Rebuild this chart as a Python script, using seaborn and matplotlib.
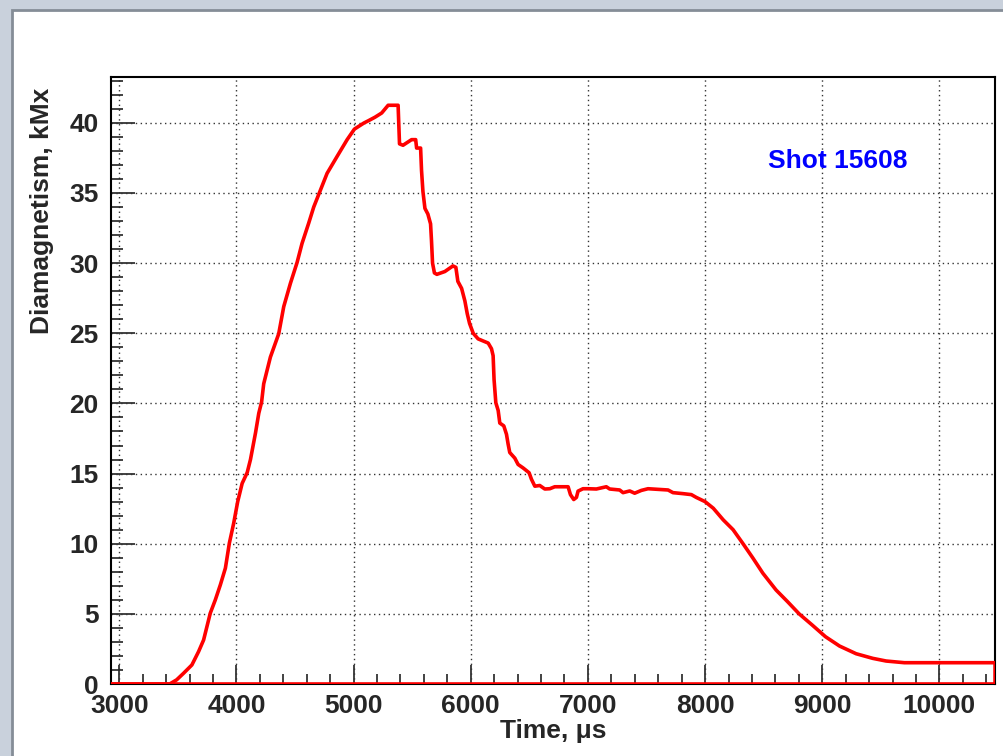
import matplotlib
matplotlib.use("Agg")
import matplotlib.pyplot as plt
import seaborn as sns
import pandas as pd
from matplotlib.patches import Rectangle
from matplotlib.ticker import MultipleLocator


# time (us) and diamagnetism (kMx)
time_us = [
    2930, 3430, 3490, 3548, 3620, 3677, 3720, 3777, 3820, 3863,
    3906, 3940, 3977, 4011, 4049, 4092, 4120, 4163, 4191, 4215,
    4233, 4290, 4361, 4404, 4461, 4518, 4560, 4617, 4660, 4717,
    4774, 4859, 4945, 5007, 5087, 5127, 5183, 5240, 5295, 5380,
    5392, 5422, 5495, 5530, 5538, 5572, 5580, 5592, 5609, 5634,
    5657, 5665, 5674, 5690, 5711, 5779, 5848, 5873, 5890, 5922,
    5950, 5970, 5990, 6021, 6063, 6149, 6177, 6191, 6199, 6214,
    6234, 6248, 6282, 6305, 6319, 6333, 6376, 6404, 6447, 6498,
    6518, 6547, 6589, 6632, 6675, 6717, 6831, 6851, 6879, 6902,
    6916, 6958, 7001, 7072, 7157, 7186, 7271, 7300, 7357, 7399,
    7456, 7513, 7684, 7726, 7811, 7883, 7925, 8000, 8070, 8155,
    8239, 8324, 8408, 8493, 8606, 8704, 8803, 8915, 9028, 9113,
    9147, 9289, 9431, 9545, 9701, 10475, 10475,
]
diamag_kmx = [
    0.0, 0.0, 0.3, 0.76, 1.36, 2.31, 3.14, 5.05, 6.0, 7.07,
    8.26, 10.05, 11.47, 13.0, 14.3, 15.07, 16.0, 17.9, 19.3, 20.1,
    21.4, 23.3, 24.96, 26.9, 28.56, 30.05, 31.4, 32.85, 34.0, 35.2,
    36.4, 37.6, 38.8, 39.55, 39.98, 40.15, 40.4, 40.7, 41.25, 41.25,
    38.5, 38.4, 38.8, 38.8, 38.2, 38.2, 36.6, 35.1, 33.9, 33.5,
    32.8, 31.6, 30.0, 29.3, 29.2, 29.4, 29.8, 29.7, 28.7, 28.2,
    27.3, 26.4, 25.7, 25.0, 24.6, 24.3, 23.9, 23.4, 21.7, 20.05,
    19.5, 18.6, 18.4, 17.8, 17.1, 16.5, 16.1, 15.65, 15.4, 15.06,
    14.6, 14.1, 14.15, 13.9, 13.92, 14.06, 14.06, 13.5, 13.15, 13.3,
    13.75, 13.92, 13.92, 13.9, 14.06, 13.9, 13.83, 13.64, 13.76, 13.6,
    13.8, 13.92, 13.83, 13.64, 13.57, 13.5, 13.3, 13.0, 12.53, 11.7,
    11.0, 10.0, 8.98, 7.9, 6.7, 5.87, 5.0, 4.2, 3.37, 2.9,
    2.71, 2.16, 1.83, 1.64, 1.52, 1.52, 0.0,
]

X_MIN, X_MAX = 2930, 10475
Y_MIN, Y_MAX = 0, 43.3

SHOT_LABEL = "Shot 15608"


def plot():

    sns.set_style("white")
    plt.rcParams["font.family"] = ["Liberation Sans", "DejaVu Sans"]
    plt.rcParams["font.weight"] = "bold"

    df = pd.DataFrame({"time": time_us, "dia": diamag_kmx})

    fig = plt.figure(figsize=(10.04, 7.56), dpi=100)
    fig.patch.set_facecolor("#c9d1dc")

    # white pad with grey bevel
    fig.add_artist(
        Rectangle(
            (12 / 1004, -0.01), 1.0, 0.9868 + 0.01,
            transform=fig.transFigure,
            facecolor="white",
            edgecolor="#858d97",
            linewidth=2,
            zorder=0,
        )
    )

    ax = fig.add_axes([0.1106, 0.0952, 0.8805, 0.8036])
    ax.set_facecolor("white")

    sns.lineplot(
        data=df,
        x="time",
        y="dia",
        estimator=None,
        sort=False,
        color="#ff0000",
        linewidth=2.6,
        ax=ax,
        zorder=3,
    )
    ax.axhline(0, color="#ff0000", linewidth=2.6, zorder=3)

    ax.set_xlim(X_MIN, X_MAX)
    ax.set_ylim(Y_MIN, Y_MAX)

    ax.xaxis.set_major_locator(MultipleLocator(1000))
    ax.xaxis.set_minor_locator(MultipleLocator(200))
    ax.yaxis.set_major_locator(MultipleLocator(5))
    ax.yaxis.set_minor_locator(MultipleLocator(1))

    ax.grid(True, which="major", color="#333333",
            linestyle=(0, (1, 2.5)), linewidth=1.0)

    ax.tick_params(axis="x", which="both", bottom=True, top=False)
    ax.tick_params(axis="y", which="both", left=True, right=False)
    ax.tick_params(axis="x", which="major", direction="in", length=13.5,
                   width=1.3, color="#333333", labelsize=19, pad=7)
    ax.tick_params(axis="x", which="minor", direction="in", length=7,
                   width=1.2, color="#222222")
    ax.tick_params(axis="y", which="major", direction="in", length=17,
                   width=1.3, color="#333333", labelsize=19, pad=9)
    ax.tick_params(axis="y", which="minor", direction="in", length=8.5,
                   width=1.2, color="#222222")

    for lab in ax.get_xticklabels() + ax.get_yticklabels():
        lab.set_fontweight("bold")

    for spine in ax.spines.values():
        spine.set_color("black")
        spine.set_linewidth(1.5)
        spine.set_visible(True)

    ax.set_xlabel("Time, μs", fontsize=19, fontweight="bold")
    ax.xaxis.set_label_coords(0.5, -0.058)

    ax.set_ylabel("Diamagnetism, kMx", fontsize=19, fontweight="bold",
                  loc="top")
    ax.yaxis.set_label_coords(-0.064, 0.981)

    ax.text(8533, 37.3, SHOT_LABEL, color="#0000ff", fontsize=19,
            fontweight="bold", ha="left", va="center")

    fig.savefig("out.png", dpi=100, facecolor=fig.get_facecolor())


if __name__ == "__main__":
    plot()
